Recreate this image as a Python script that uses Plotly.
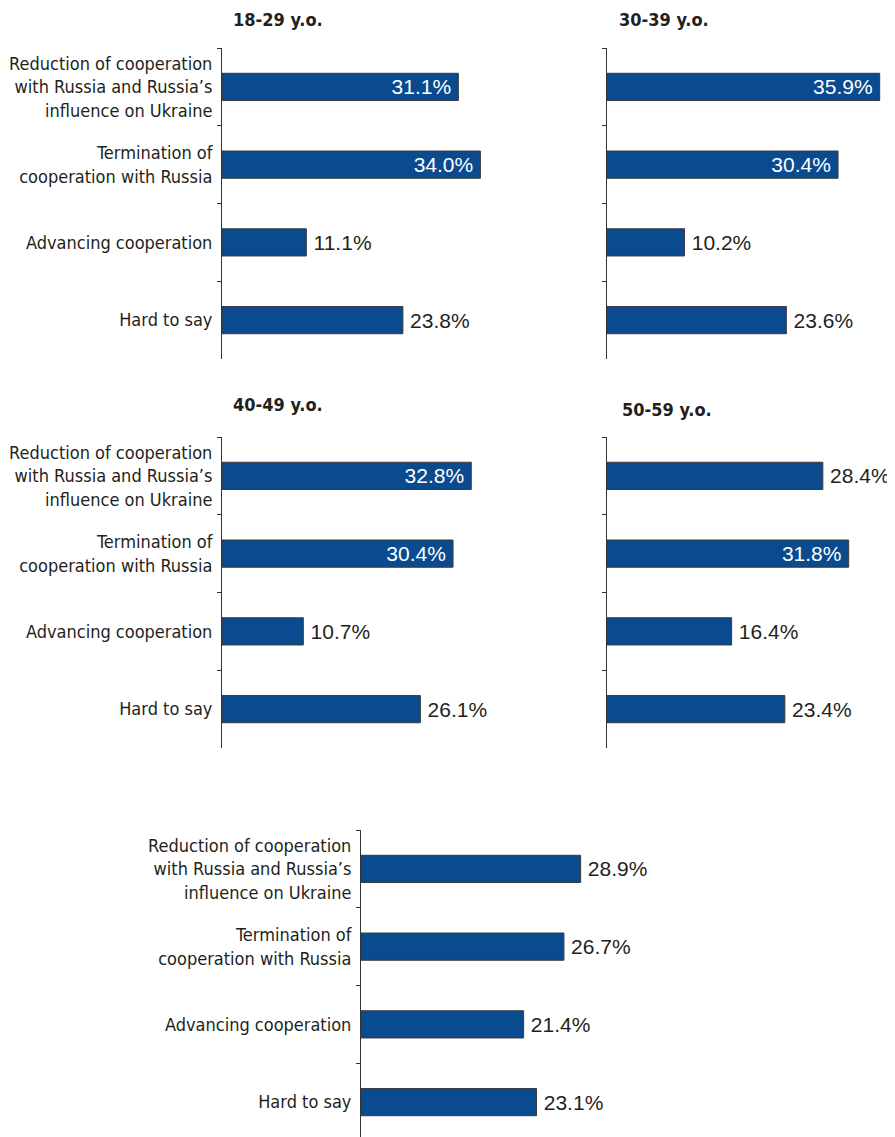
import plotly.graph_objects as go

W, H = 895, 1137
OFF = 8  # page body margin in the browser

categories = [
    "Reduction of cooperation<br>with Russia and Russia’s<br>influence on Ukraine",
    "Termination of<br>cooperation with Russia",
    "Advancing cooperation",
    "Hard to say",
]
titles = ["18-29 y.o.", "30-39 y.o.", "40-49 y.o.", "50-59 y.o.", ""]
v_18_29 = [31.1, 34.0, 11.1, 23.8]
v_30_39 = [35.9, 30.4, 10.2, 23.6]
v_40_49 = [32.8, 30.4, 10.7, 26.1]
v_50_59 = [28.4, 31.8, 16.4, 23.4]
v_60p = [28.9, 26.7, 21.4, 23.1]
series = [v_18_29, v_30_39, v_40_49, v_50_59, v_60p]

BAR = "#0a4a8f"
TXT = "#231f20"
NARROW = "Liberation Sans Narrow, Arial Narrow, DejaVu Sans Condensed, sans-serif"
REG = "Liberation Sans, Arial, Helvetica, sans-serif"

# panel geometry in screen pixels: (axis x, axis top y, axis bottom y, show labels, title x, title y)
panels = [
    (222, 48, 359, True, 232, 19),
    (607, 48, 359, False, 618, 19),
    (222, 437, 748, True, 232, 405),
    (607, 437, 748, False, 621, 409),
    (361, 830, 1137, True, None, None),
]
PX_PER_PCT = 7.6
XMAX = 36
BAND = 77.75

fig = go.Figure()
layout = dict(
    width=W, height=H, margin=dict(l=0, r=0, t=0, b=0, autoexpand=False),
    paper_bgcolor="white", plot_bgcolor="white", showlegend=False,
    bargap=0.65,
)
annotations = []
for i, (vals, (ax, top, bot, showlab, tx, ty)) in enumerate(zip(series, panels)):
    ax, top, bot = ax - OFF, top - OFF, bot - OFF
    n = "" if i == 0 else str(i + 1)
    xa, ya = "x" + n, "y" + n
    text = []
    pos = []
    for v in vals:
        if v >= 30:
            text.append(f"{v:.1f}%\u2009")
            pos.append("inside")
        else:
            text.append(f"\u2009{v:.1f}%")
            pos.append("outside")
    fig.add_trace(go.Bar(
        x=vals, y=categories, orientation="h", xaxis=xa, yaxis=ya,
        marker=dict(color=BAR, line=dict(color="#3a3a3a", width=1)),
        text=text, textposition=pos, insidetextanchor="end",
        constraintext="none", cliponaxis=False,
        insidetextfont=dict(family=REG, size=21, color="white"),
        outsidetextfont=dict(family=REG, size=21, color=TXT),
        hoverinfo="skip",
    ))
    x0 = ax / W
    x1 = (ax + XMAX * PX_PER_PCT) / W
    nb = (bot - top) / BAND
    ybot = -0.5 + nb
    layout["xaxis" + n] = dict(
        domain=[x0, x1], range=[0, XMAX], anchor=ya, visible=False,
        fixedrange=True, automargin=False,
    )
    layout["yaxis" + n] = dict(
        domain=[1 - bot / H, 1 - top / H], range=[ybot, -0.5], anchor=xa,
        type="category", categoryorder="array", categoryarray=categories,
        showline=True, linecolor="#333333", linewidth=1,
        ticks="outside", ticklen=4, tickcolor="#333333", tickwidth=1,
        tickson="boundaries", showgrid=False, zeroline=False,
        showticklabels=showlab, ticklabelstandoff=5, automargin=False,
        tickfont=dict(family=NARROW, size=18, color=TXT),
    )
    if tx is not None:
        annotations.append(dict(
            text="<b>" + titles[i] + "</b>", x=(tx - OFF) / W, y=1 - (ty - OFF) / H,
            xref="paper", yref="paper", xanchor="left", yanchor="middle",
            borderpad=0,
            showarrow=False, font=dict(family=NARROW, size=18, color=TXT),
        ))

layout["annotations"] = annotations
fig.update_layout(**layout)
fig.write_html("out.html")
